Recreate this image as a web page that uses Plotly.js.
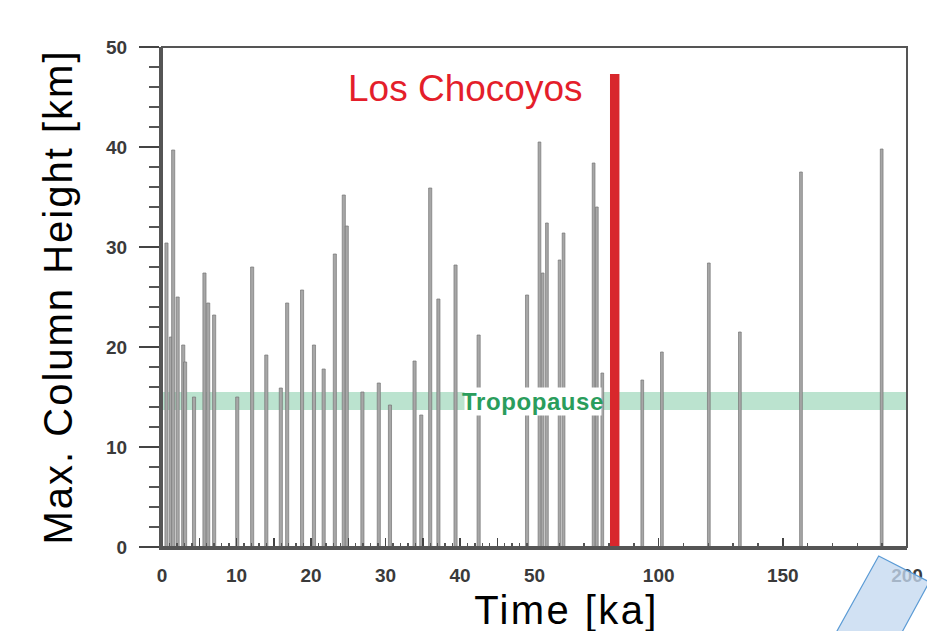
<!DOCTYPE html>
<html>
<head>
<meta charset="utf-8">
<script src="https://cdn.plot.ly/plotly-3.0.1.min.js"></script>
<style>
html,body{margin:0;padding:0;background:#fff;}
#chart{width:927px;height:631px;}
#chart text.ytitle{letter-spacing:2px;}
#chart g.annotation[data-index="2"] text{letter-spacing:2.4px;}
#chart g.annotation[data-index="1"] text{letter-spacing:0.6px;}
</style>
</head>
<body>
<div id="chart"></div>
<script>
// Eruption ages (ka) and maximum column heights (km)
var eruptionAge = [0.6, 1.2, 1.5, 2.1, 2.85, 3.1, 4.3, 5.7, 6.2, 7.0, 10.1, 12.1, 14.0, 15.95, 16.8, 18.8, 20.4, 21.7, 23.2, 24.4, 24.8, 26.9, 29.1, 30.6, 33.9, 34.8, 36.0, 37.1, 39.4, 42.5, 49.0,
                   52.0, 53.3, 55.0, 60.1, 61.7, 73.8, 75.1, 77.3, 93.4, 101.3, 120.2, 132.7, 157.3, 189.8];
var eruptionHeight = [30.4, 21.0, 39.7, 25.0, 20.2, 18.5, 15.0, 27.4, 24.4, 23.2, 15.0, 28.0, 19.2, 15.9, 24.4, 25.7, 20.2, 17.8, 29.3, 35.2, 32.1, 15.5, 16.4, 14.2, 18.6, 13.2, 35.9, 24.8, 28.2, 21.2, 25.2,
                      40.5, 27.4, 32.4, 28.7, 31.4, 38.4, 34.0, 17.4, 16.7, 19.5, 28.4, 21.5, 37.5, 39.8];
var chocoyosAge = [82.3];
var chocoyosHeight = [47.3];
var tropopauseRange = [13.7, 15.5];
var axisBreak = 50;
var yTicks = [0, 10, 20, 30, 40, 50];

var youngX = [], youngY = [], oldX = [], oldY = [];
eruptionAge.forEach(function (a, i) {
  if (a <= axisBreak) { youngX.push(a); youngY.push(eruptionHeight[i]); }
  else { oldX.push(a); oldY.push(eruptionHeight[i]); }
});

var barFill = '#a7a7a7', barEdge = '#767676';
var traces = [
  {type: 'bar', x: youngX, y: youngY, xaxis: 'x', yaxis: 'y', width: 0.42,
   marker: {color: barFill, line: {color: barEdge, width: 0.7}}, hoverinfo: 'x+y', showlegend: false},
  {type: 'bar', x: oldX, y: oldY, xaxis: 'x2', yaxis: 'y', width: 1.1,
   marker: {color: barFill, line: {color: barEdge, width: 0.7}}, hoverinfo: 'x+y', showlegend: false},
  {type: 'bar', x: chocoyosAge, y: chocoyosHeight, xaxis: 'x2', yaxis: 'y', width: 3.8,
   marker: {color: '#d8272c', line: {width: 0}}, name: 'Los Chocoyos', showlegend: false}
];

// blank labels for the 5-ka ticks
var aliasYoung = {};
for (var t = 5; t < 50; t += 10) { aliasYoung[String(t)] = ' '; }
var tickFont = {family: 'Liberation Sans, Arial, sans-serif', size: 19, color: '#3a3a3a', weight: 'bold'};

var layout = {
  width: 927, height: 631,
  margin: {l: 162, r: 20, t: 47, b: 84},
  paper_bgcolor: '#fff', plot_bgcolor: '#fff',
  barmode: 'overlay',
  showlegend: false,
  xaxis: {
    domain: [0, 0.5], range: [0, axisBreak], anchor: 'y',
    tickmode: 'linear', tick0: 0, dtick: 5, labelalias: aliasYoung,
    ticks: 'inside', ticklen: 9, tickwidth: 1.5, tickcolor: '#444',
    minor: {dtick: 1, tick0: 0, ticks: 'inside', ticklen: 4, tickwidth: 1.4, tickcolor: '#555', showgrid: false},
    showgrid: false, zeroline: false,
    showline: true, linecolor: '#555', linewidth: 3,
    tickfont: tickFont, ticklabelstandoff: 9
  },
  xaxis2: {
    domain: [0.5, 1], range: [axisBreak, 200], anchor: 'y',
    tickmode: 'linear', tick0: 0, dtick: 50, labelalias: {'50': ' '},
    ticks: 'inside', ticklen: 9, tickwidth: 1.5, tickcolor: '#444',
    minor: {dtick: 10, tick0: 0, ticks: 'inside', ticklen: 4, tickwidth: 1.4, tickcolor: '#555', showgrid: false},
    showgrid: false, zeroline: false,
    showline: true, linecolor: '#555', linewidth: 3,
    tickfont: tickFont, ticklabelstandoff: 9
  },
  yaxis: {
    domain: [0, 1], range: [0, 50], anchor: 'x',
    tickmode: 'array', tickvals: yTicks,
    ticks: 'outside', ticklen: 20, tickwidth: 1.5, tickcolor: '#444',
    minor: {dtick: 2, tick0: 0, ticks: 'outside', ticklen: 10, tickwidth: 1.5, tickcolor: '#555', showgrid: false},
    showgrid: false, zeroline: false,
    showline: true, linecolor: '#555', linewidth: 3,
    tickfont: tickFont, ticklabelstandoff: 8,
    title: {text: 'Max. Column Height [km]', font: {family: 'Liberation Sans, Arial, sans-serif', size: 40, color: '#000'}, standoff: 22}
  },
  shapes: [
    {type: 'rect', xref: 'paper', yref: 'y', x0: 0, x1: 1, y0: tropopauseRange[0], y1: tropopauseRange[1],
     fillcolor: 'rgba(120,200,160,0.5)', line: {width: 0}, layer: 'below'},
    {type: 'rect', xref: 'paper', yref: 'paper', x0: 0, x1: 1, y0: 0, y1: 1,
     line: {color: '#555', width: 2}, fillcolor: 'rgba(0,0,0,0)', layer: 'above'},
    {type: 'path', xref: 'paper', yref: 'paper',
     path: 'M 0.962 -0.018 L 1.03 -0.07 L 0.935 -0.33 L 0.865 -0.278 Z',
     fillcolor: 'rgba(196,216,240,0.78)', line: {color: '#5b9bd5', width: 1.2}, layer: 'above'}
  ],
  annotations: [
    {text: 'Los Chocoyos', xref: 'paper', yref: 'paper', x: (465 - 162) / 745, y: (547 - 89) / 500,
     xanchor: 'center', yanchor: 'middle', showarrow: false,
     font: {family: 'Liberation Sans, Arial, sans-serif', size: 37, color: '#e41e2b'}},
    {text: 'Tropopause', xref: 'paper', yref: 'y', x: (533 - 162) / 745, y: 14.6,
     xanchor: 'center', yanchor: 'middle', showarrow: false, bgcolor: '#fff', borderpad: 0,
     font: {family: 'Liberation Sans, Arial, sans-serif', size: 24, color: '#2a9d5c', weight: 'bold'}},
    {text: 'Time [ka]', xref: 'paper', yref: 'paper', x: (566 - 162) / 745, y: (547 - 610) / 500,
     xanchor: 'center', yanchor: 'middle', showarrow: false,
     font: {family: 'Liberation Sans, Arial, sans-serif', size: 40, color: '#000'}}
  ]
};

Plotly.newPlot('chart', traces, layout, {displayModeBar: false, staticPlot: true});
</script>
</body>
</html>
